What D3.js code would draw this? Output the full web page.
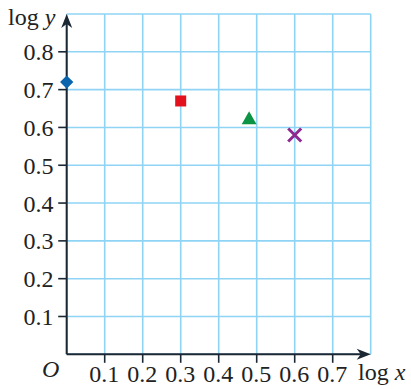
<!DOCTYPE html>
<html><head><meta charset="utf-8">
<script src="https://cdn.jsdelivr.net/npm/d3@7"></script>
<style>html,body{margin:0;padding:0;background:#fff;}svg{display:block;}</style>
</head><body>
<svg id="c" width="411" height="389"></svg>
<script>
const xTicks = [0.1,0.2,0.3,0.4,0.5,0.6,0.7];
const yTicks = [0.1,0.2,0.3,0.4,0.5,0.6,0.7,0.8];
const xGrid = [0,0.1,0.2,0.3,0.4,0.5,0.6,0.7,0.8];
const yGrid = [0,0.1,0.2,0.3,0.4,0.5,0.6,0.7,0.8,0.9];
const pointNames = ["diamond","square","triangle","cross"];
const logX = [0, 0.30, 0.48, 0.60];
const logY = [0.72, 0.67, 0.62, 0.58];
const pointColors = ["#0a64ad","#e3101e","#0a9444","#8e2a8f"];

const svg = d3.select("#c");
const x = d3.scaleLinear().domain([0,0.8]).range([66.7,370.7]);
const y = d3.scaleLinear().domain([0,0.9]).range([354.3,14]);
const gridC = "#8fd4f5", axC = "#1b2733";
const font = "Liberation Serif";
const fs = 24;

// grid
svg.append("g").selectAll("line.v").data(xGrid).join("line")
  .attr("x1",d=>x(d)).attr("x2",d=>x(d)).attr("y1",y(0)).attr("y2",y(0.9))
  .attr("stroke",gridC).attr("stroke-width",1.6);
svg.append("g").selectAll("line.h").data(yGrid).join("line")
  .attr("y1",d=>y(d)).attr("y2",d=>y(d)).attr("x1",x(0)).attr("x2",x(0.8))
  .attr("stroke",gridC).attr("stroke-width",1.6);

// axes
svg.append("line").attr("x1",x(0)).attr("x2",x(0.8)-8).attr("y1",y(0)).attr("y2",y(0))
  .attr("stroke",axC).attr("stroke-width",2);
svg.append("line").attr("x1",x(0)).attr("x2",x(0)).attr("y1",y(0)).attr("y2",y(0.9)+8)
  .attr("stroke",axC).attr("stroke-width",2);
// arrowheads
const tx = x(0.8), ty = y(0);
svg.append("path").attr("d",`M${tx},${ty} L${tx-14},${ty-5.5} L${tx-10},${ty} L${tx-14},${ty+5.5} Z`).attr("fill",axC);
const ux = x(0), uy = y(0.9);
svg.append("path").attr("d",`M${ux},${uy} L${ux-5.5},${uy+14} L${ux},${uy+10} L${ux+5.5},${uy+14} Z`).attr("fill",axC);

// ticks
svg.append("g").selectAll("line").data(xTicks).join("line")
  .attr("x1",d=>x(d)).attr("x2",d=>x(d)).attr("y1",y(0)).attr("y2",y(0)+8.5)
  .attr("stroke",axC).attr("stroke-width",1.6);
svg.append("g").selectAll("line").data(yTicks).join("line")
  .attr("y1",d=>y(d)).attr("y2",d=>y(d)).attr("x1",x(0)-8.5).attr("x2",x(0))
  .attr("stroke",axC).attr("stroke-width",1.6);

// tick labels
svg.append("g").selectAll("text").data(xTicks).join("text")
  .attr("x",d=>x(d)-0.5).attr("y",382).attr("text-anchor","middle")
  .attr("font-family",font).attr("font-size",fs).attr("fill","#222")
  .text(d=>d.toFixed(1));
svg.append("g").selectAll("text").data(yTicks).join("text")
  .attr("x",53.5).attr("y",d=>y(d)+8.5).attr("text-anchor","end")
  .attr("font-family",font).attr("font-size",fs).attr("fill","#222")
  .text(d=>d.toFixed(1));

// axis titles
const ly = svg.append("text").attr("x",8).attr("y",25)
  .attr("font-family",font).attr("font-size",fs).attr("fill","#222");
ly.append("tspan").text("log ");
ly.append("tspan").attr("font-style","italic").text("y");
const lx = svg.append("text").attr("x",358).attr("y",380)
  .attr("font-family",font).attr("font-size",fs).attr("fill","#222");
lx.append("tspan").text("log ");
lx.append("tspan").attr("font-style","italic").text("x");
svg.append("text").attr("x",42).attr("y",377).attr("font-family",font)
  .attr("font-size",fs).attr("font-style","italic").attr("fill","#222").text("O");

// points
const pts = pointNames.map((n,i)=>({n, lx:logX[i], ly:logY[i], c:pointColors[i]}));
const g = svg.append("g");
pts.forEach(p=>{
  const cx = x(p.lx), cy = y(p.ly);
  if(p.n==="diamond"){
    g.append("path").attr("d",d3.symbol(d3.symbolSquare,88)()).attr("transform",`translate(${cx},${cy}) rotate(45)`).attr("fill",p.c);
  } else if(p.n==="square"){
    g.append("path").attr("d",d3.symbol(d3.symbolSquare,121)()).attr("transform",`translate(${cx},${cy})`).attr("fill",p.c);
  } else if(p.n==="triangle"){
    g.append("path").attr("d",d3.symbol(d3.symbolTriangle,95)()).attr("transform",`translate(${cx},${cy})`).attr("fill",p.c);
  } else {
    g.append("path").attr("d",`M${cx-6.5},${cy-6.5}L${cx+6.5},${cy+6.5}M${cx-6.5},${cy+6.5}L${cx+6.5},${cy-6.5}`)
      .attr("stroke",p.c).attr("stroke-width",3).attr("fill","none");
  }
});
</script>
</body></html>
